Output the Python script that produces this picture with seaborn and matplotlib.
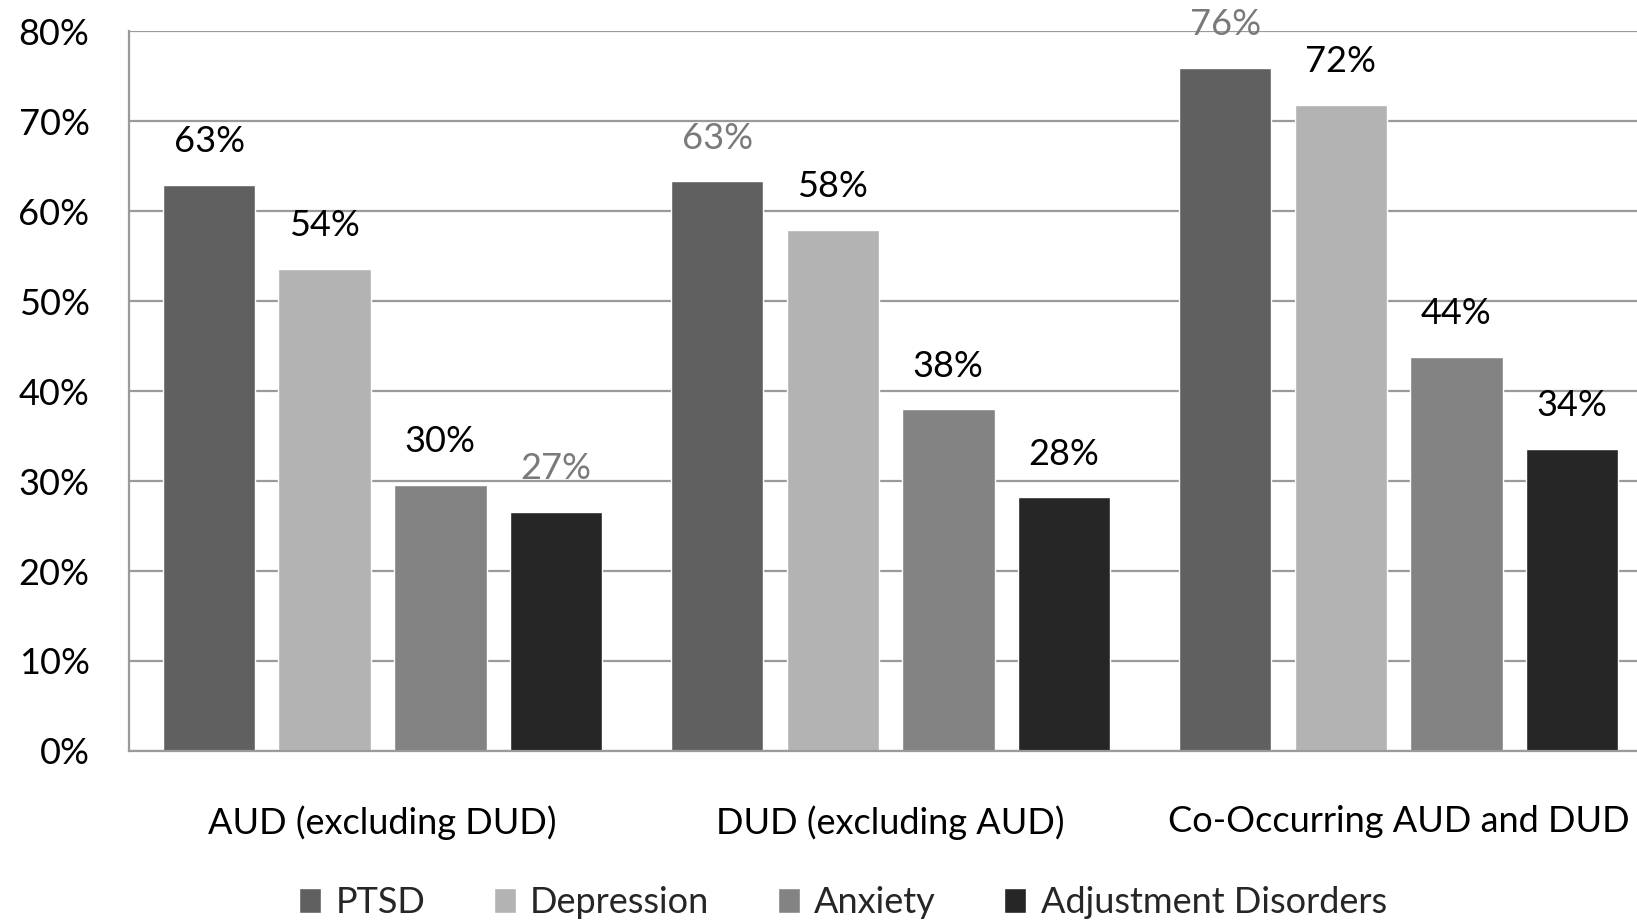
import pandas as pd
import numpy as np
import matplotlib
matplotlib.use("Agg")
import matplotlib.pyplot as plt
import seaborn as sns

groups = ["AUD (excluding DUD)", "DUD (excluding AUD)", "Co-Occurring AUD and DUD"]
disorders = ["PTSD", "Depression", "Anxiety", "Adjustment Disorders"]
ptsd = [62.9, 63.3, 75.9]
depression = [53.6, 57.9, 71.8]
anxiety = [29.6, 38.0, 43.8]
adjustment = [26.6, 28.2, 33.6]
y_ticks = [0, 10, 20, 30, 40, 50, 60, 70, 80]

COLORS = ["#606060", "#b3b3b3", "#838383", "#262626"]
# a few value labels look washed out in the original scan
FADED = {(0, 3), (1, 0), (2, 0)}
FS = 26

df = pd.DataFrame({
    "group": groups * len(disorders),
    "disorder": np.repeat(disorders, len(groups)),
    "value": ptsd + depression + anxiety + adjustment,
})

sns.set_style("white")
plt.rcParams["font.family"] = ["Lato", "DejaVu Sans"]

fig = plt.figure(figsize=(16.37, 9.22), dpi=100)
ax = fig.add_axes([0.0785, 0.1855, 0.931, 0.7807])
ax.set_axisbelow(True)

sns.barplot(
    data=df, x="group", y="value", hue="disorder",
    order=groups, hue_order=disorders, palette=COLORS,
    width=0.91, gap=0.2, saturation=1, ax=ax, zorder=2
)

for h, container in enumerate(ax.containers):
    for g, bar in enumerate(container):
        faded = (g, h) in FADED
        ax.annotate(
            f"{bar.get_height():.0f}%",
            (bar.get_x() + bar.get_width() / 2, bar.get_height()),
            xytext=(0, 31), textcoords="offset points",
            ha="center", va="center", fontsize=FS,
            color="#7a7a7a" if faded else "#000000",
            annotation_clip=False,
        )

ax.set_ylim(0, 80)
ax.set_xlim(-0.5, 2.5)
ax.set_yticks(y_ticks)
ax.set_yticklabels([f"{t}%" for t in y_ticks])
ax.set_xlabel("")
ax.set_ylabel("")
ax.tick_params(axis="y", length=0, pad=28, labelsize=FS, labelcolor="#000000")
ax.tick_params(axis="x", length=0, pad=39, labelsize=FS, labelcolor="#000000")

ax.yaxis.grid(True, color="#9a9a9a", lw=1.6)
ax.xaxis.grid(False)
for side in ["top", "right"]:
    ax.spines[side].set_visible(False)
for side in ["left", "bottom"]:
    ax.spines[side].set_color("#9a9a9a")
    ax.spines[side].set_linewidth(1.6)

ax.legend(
    loc="center", bbox_to_anchor=(0.515, 0.021), bbox_transform=fig.transFigure,
    ncol=4, frameon=False, fontsize=FS, handlelength=0.6, handleheight=0.7,
    handletextpad=0.4, columnspacing=1.9, borderpad=0,
)

fig.savefig("out.png", dpi=100)
plt.close()
